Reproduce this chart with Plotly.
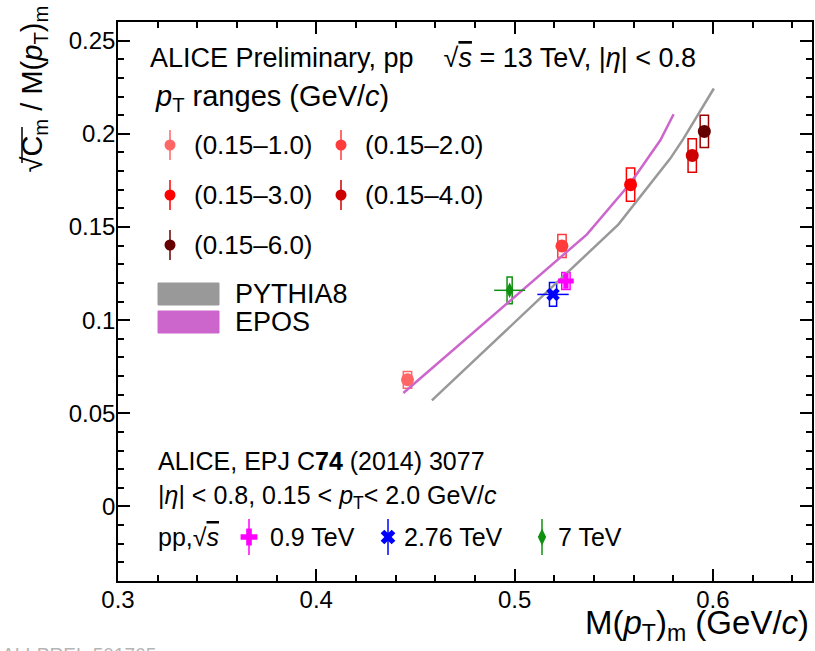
import plotly.graph_objects as go

# ---------------- data ----------------
# ALICE Preliminary, pp sqrt(s) = 13 TeV, |eta| < 0.8
pt_ranges = ["(0.15–1.0)", "(0.15–2.0)", "(0.15–3.0)", "(0.15–4.0)", "(0.15–6.0)"]
mpt13 = [0.446, 0.5239, 0.5585, 0.5896, 0.5957]
ratio13 = [0.0680, 0.1398, 0.1727, 0.1884, 0.2013]
ratio13_sys = [0.0045, 0.0062, 0.0089, 0.0090, 0.0086]

# ALICE, EPJ C74 (2014) 3077
energies = ["0.9 TeV", "2.76 TeV", "7 TeV"]
mpt_old = [0.5259, 0.5194, 0.4975]
mpt_old_err = [0.0, 0.0079, 0.0078]
ratio_old = [0.1210, 0.1138, 0.1160]
ratio_old_sys = [0.0046, 0.0064, 0.0072]

# models
pythia_x = [0.4583, 0.5524, 0.5785, 0.5852, 0.6005]
pythia_y = [0.0569, 0.1514, 0.1867, 0.1974, 0.2243]
epos_x = [0.4439, 0.5365, 0.5583, 0.5735, 0.5802]
epos_y = [0.0609, 0.1460, 0.1733, 0.1965, 0.2105]

x_ticks = [0.3, 0.4, 0.5, 0.6]
y_ticks = [0, 0.05, 0.1, 0.15, 0.2, 0.25]

# ---------------- style ----------------
FONT = "Liberation Sans, Arial, Helvetica, sans-serif"
col13 = ["#ff6666", "#ff3b3b", "#ff0000", "#cc0000", "#660000"]
box13 = ["#ff6666", "#ff3b3b", "#ff0000", "#e00000", "#990000"]
box13_hw = 0.0021
col_old = ["#ff00ff", "#0000ff", "#109010"]
sym_old = ["cross", "x", "diamond-tall"]
size_old = [13, 12, 11]
box_old_hw = [0.0021, 0.0018, 0.0013]
col_pythia = "#999999"
col_epos = "#cc66cc"

W, H = 815, 651
L, R, T, B = 118, 3, 22, 70
PW, PH = W - L - R, H - T - B


def px(x):
    return (x - L) / PW


def py(y):
    return (H - B - y) / PH


fig = go.Figure()
shapes = []
annotations = []

# systematic boxes
for x, y, s, c in zip(mpt13, ratio13, ratio13_sys, box13):
    shapes.append(dict(type="rect", xref="x", yref="y", x0=x - box13_hw, x1=x + box13_hw,
                       y0=y - s, y1=y + s, line=dict(color=c, width=1.5),
                       fillcolor="rgba(0,0,0,0)", layer="below"))
for x, y, s, c, hw in zip(mpt_old, ratio_old, ratio_old_sys, col_old, box_old_hw):
    shapes.append(dict(type="rect", xref="x", yref="y", x0=x - hw, x1=x + hw,
                       y0=y - s, y1=y + s, line=dict(color=c, width=1.5),
                       fillcolor="rgba(0,0,0,0)", layer="below"))

# model curves
fig.add_trace(go.Scatter(x=pythia_x, y=pythia_y, mode="lines", name="PYTHIA8",
                         line=dict(color=col_pythia, width=2.5), showlegend=False))
fig.add_trace(go.Scatter(x=epos_x, y=epos_y, mode="lines", name="EPOS",
                         line=dict(color=col_epos, width=2.5), showlegend=False))

# old data
for i in range(3):
    fig.add_trace(go.Scatter(
        x=[mpt_old[i]], y=[ratio_old[i]], mode="markers", name=energies[i],
        marker=dict(symbol=sym_old[i], size=size_old[i], color=col_old[i]),
        error_x=dict(type="data", array=[mpt_old_err[i]], color=col_old[i], thickness=1.5, width=0),
        showlegend=False))

# 13 TeV data
for i in range(5):
    fig.add_trace(go.Scatter(
        x=[mpt13[i]], y=[ratio13[i]], mode="markers", name=pt_ranges[i],
        marker=dict(symbol="circle", size=13, color=col13[i]), showlegend=False))

# ---------------- legend (drawn on helper axes, pixel-based layout) ----------------
leg_pos = [(170, 145), (341, 145), (170, 195), (341, 195), (170, 245)]
for (lx, ly), c, lab in zip(leg_pos, col13, pt_ranges):
    fig.add_trace(go.Scatter(
        x=[px(lx)], y=[py(ly)], xaxis="x3", yaxis="y3", mode="markers",
        marker=dict(symbol="circle", size=11, color=c),
        error_y=dict(type="constant", value=15 / PH, color=c, thickness=1.5, width=0),
        showlegend=False, hoverinfo="skip"))
    annotations.append(dict(x=px(lx + 22), y=py(ly), text=lab, size=26))

old_pos = [(249, 537), (388, 537), (542, 537)]
old_txt = [268, 402, 556]
for (lx, ly), c, s, sz, lab, tx in zip(old_pos, col_old, sym_old, size_old, energies, old_txt):
    fig.add_trace(go.Scatter(
        x=[px(lx)], y=[py(ly)], xaxis="x3", yaxis="y3", mode="markers",
        marker=dict(symbol=s, size=sz + 1, color=c),
        error_y=dict(type="constant", value=18 / PH, color=c, thickness=1.5, width=0),
        showlegend=False, hoverinfo="skip"))
    annotations.append(dict(x=px(tx), y=py(ly), text=lab, size=25))

# model legend boxes
for (y0, y1), c, lab in zip([(283, 305), (311, 333)], [col_pythia, col_epos], ["PYTHIA8", "EPOS"]):
    shapes.append(dict(type="rect", xref="paper", yref="paper", x0=px(158), x1=px(219),
                       y0=py(y1), y1=py(y0), line=dict(color=c, width=1), fillcolor=c))
    annotations.append(dict(x=px(233), y=py((y0 + y1) / 2), text=lab, size=27))

# texts
OV = '<span style="text-decoration:overline">'
annotations += [
    dict(x=px(148), y=py(58), size=27,
         text="ALICE Preliminary, pp\u00a0\u00a0\u00a0\u00a0√" + OV + "<i>s</i></span> = 13 TeV, |<i>η</i>| &lt; 0.8"),
    dict(x=px(153), y=py(98), size=29, text="<i>p</i><sub>T</sub> ranges (GeV/<i>c</i>)"),
    dict(x=px(156), y=py(461), size=25, text="ALICE, EPJ C<b>74</b> (2014) 3077"),
    dict(x=px(156), y=py(497), size=25,
         text="|<i>η</i>| &lt; 0.8, 0.15 &lt; <i>p</i><sub>T</sub>&lt; 2.0 GeV/<i>c</i>"),
    dict(x=px(156), y=py(537), size=25, text="pp,√" + OV + "<i>s</i></span>"),
]
for a in annotations:
    sz = a.pop("size")
    a.update(xref="paper", yref="paper", showarrow=False, xanchor="left", yanchor="middle",
             font=dict(size=sz, family=FONT, color="black"))

# axis titles
annotations.append(dict(x=px(811), y=py(625), xref="paper", yref="paper", showarrow=False,
                        xanchor="right", yanchor="middle",
                        text="M(<i>p</i><sub>T</sub>)<sub>m</sub> (GeV/<i>c</i>)",
                        font=dict(size=33, family=FONT, color="black")))
annotations.append(dict(x=px(33), y=py(4), xref="paper", yref="paper", showarrow=False,
                        xanchor="center", yanchor="top", textangle=-90,
                        text="√C<sub>m</sub> / M(<i>p</i><sub>T</sub>)<sub>m</sub>",
                        font=dict(size=29, family=FONT, color="black")))
# sqrt bar over C_m in the rotated y title
shapes.append(dict(type="line", xref="paper", yref="paper", x0=px(22), x1=px(22),
                   y0=py(163), y1=py(127), line=dict(color="black", width=1.5)))
# watermark
annotations.append(dict(x=px(0), y=py(642), xref="paper", yref="paper", showarrow=False,
                        xanchor="left", yanchor="top", text="ALI-PREL-501765",
                        font=dict(size=19, family=FONT, color="#b5b5b5")))

XR = [0.3, 0.65]
YR = [-0.04, 0.26]
tickfont = dict(size=24, family=FONT, color="black")
minor_x = dict(ticks="inside", ticklen=6, tickwidth=1.5, dtick=0.02, tickcolor="black")
minor_y = dict(ticks="inside", ticklen=6, tickwidth=1.5, dtick=0.01, tickcolor="black")
ax_common = dict(ticks="inside", ticklen=12, tickwidth=1.5, tickcolor="black",
                 showline=True, linecolor="black", linewidth=1.5, showgrid=False,
                 zeroline=False)

fig.update_layout(
    width=W, height=H,
    margin=dict(l=L, r=R, t=T, b=B, autoexpand=False),
    paper_bgcolor="white", plot_bgcolor="white",
    showlegend=False,
    shapes=shapes, annotations=annotations,
    xaxis=dict(range=XR, tickvals=x_ticks, minor=minor_x, tickfont=tickfont,
               ticklabelstandoff=-4, **ax_common),
    yaxis=dict(range=YR, tickvals=y_ticks, minor=minor_y, tickfont=tickfont,
               ticklabelstandoff=-4, **ax_common),
    xaxis2=dict(range=XR, overlaying="x", side="top", tickvals=x_ticks, minor=minor_x,
                showticklabels=False, **ax_common),
    yaxis2=dict(range=YR, overlaying="y", side="right", tickvals=y_ticks, minor=minor_y,
                showticklabels=False, **ax_common),
    xaxis3=dict(range=[0, 1], overlaying="x", visible=False, fixedrange=True),
    yaxis3=dict(range=[0, 1], overlaying="y", visible=False, fixedrange=True),
)
# invisible trace to activate top/right tick axes
fig.add_trace(go.Scatter(x=[XR[0]], y=[YR[0]], xaxis="x2", yaxis="y2", mode="markers",
                         marker=dict(opacity=0), showlegend=False, hoverinfo="skip"))

fig.write_html("out.html", config={"displayModeBar": False},
               post_script="document.body.style.margin='0px';")
